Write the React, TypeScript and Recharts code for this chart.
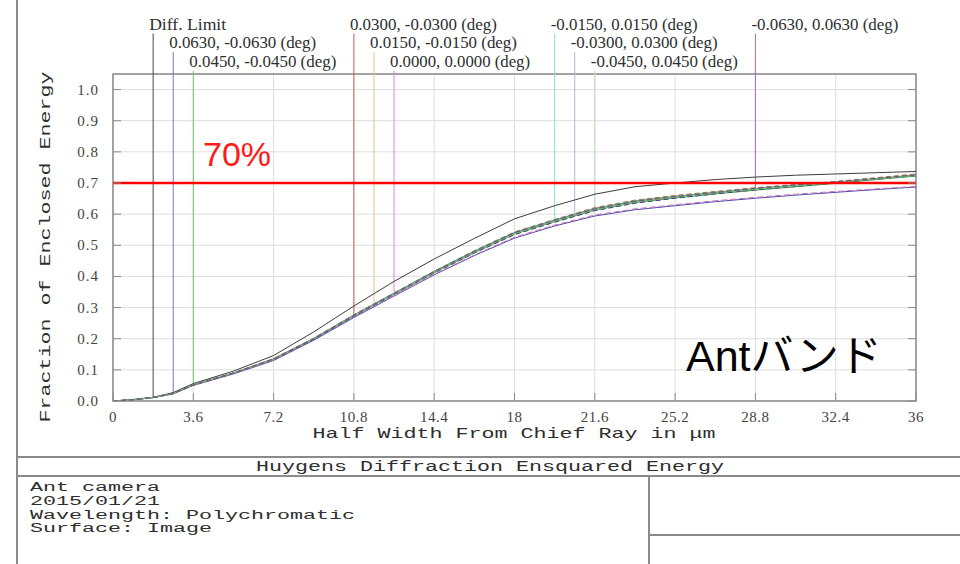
import React from 'react';
import {
  LineChart,
  Line,
  XAxis,
  YAxis,
  CartesianGrid,
  ReferenceLine,
  ReferenceArea,
} from 'recharts';

// Half width from chief ray (µm) at which the enclosed energy is sampled
const RADIUS_UM = [0, 0.9, 1.8, 2.7, 3.6, 5.4, 7.2, 9, 10.8, 12.6, 14.4, 16.2, 18, 19.8, 21.6, 23.4, 25.2, 27, 28.8, 30.6, 32.4, 34.2, 36];

// Fraction of enclosed energy per field
const DIFF_LIMIT = [0, 0.005, 0.012, 0.027, 0.056, 0.096, 0.146, 0.222, 0.305, 0.384, 0.456, 0.522, 0.585, 0.627, 0.664, 0.688, 0.7, 0.711, 0.719, 0.725, 0.729, 0.733, 0.737];
const F_P0630 = [0, 0.004, 0.011, 0.023, 0.05, 0.087, 0.13, 0.195, 0.268, 0.337, 0.405, 0.467, 0.523, 0.562, 0.594, 0.614, 0.627, 0.64, 0.651, 0.661, 0.67, 0.679, 0.687];
const F_P0450 = [0, 0.004, 0.011, 0.024, 0.052, 0.089, 0.134, 0.199, 0.273, 0.343, 0.412, 0.476, 0.536, 0.576, 0.613, 0.637, 0.652, 0.665, 0.677, 0.688, 0.699, 0.711, 0.722];
const F_P0300 = [0, 0.004, 0.011, 0.024, 0.052, 0.09, 0.136, 0.201, 0.276, 0.346, 0.416, 0.481, 0.541, 0.581, 0.618, 0.642, 0.657, 0.67, 0.682, 0.692, 0.702, 0.714, 0.726];
const F_P0150 = [0, 0.004, 0.011, 0.024, 0.052, 0.09, 0.136, 0.202, 0.277, 0.347, 0.417, 0.483, 0.543, 0.583, 0.621, 0.645, 0.66, 0.673, 0.685, 0.695, 0.705, 0.717, 0.729];
const F_0000 = [0, 0.004, 0.011, 0.023, 0.051, 0.088, 0.131, 0.197, 0.27, 0.339, 0.407, 0.469, 0.526, 0.565, 0.597, 0.617, 0.63, 0.643, 0.654, 0.664, 0.673, 0.681, 0.689];
const F_M0150 = [0, 0.004, 0.011, 0.024, 0.052, 0.09, 0.135, 0.201, 0.276, 0.346, 0.416, 0.481, 0.541, 0.581, 0.618, 0.642, 0.657, 0.67, 0.682, 0.693, 0.703, 0.714, 0.725];
const F_M0300 = [0, 0.004, 0.011, 0.024, 0.051, 0.089, 0.133, 0.198, 0.272, 0.342, 0.411, 0.475, 0.534, 0.574, 0.611, 0.635, 0.651, 0.665, 0.678, 0.689, 0.7, 0.712, 0.724];
const F_M0450 = [0, 0.004, 0.011, 0.024, 0.052, 0.09, 0.134, 0.2, 0.274, 0.344, 0.413, 0.478, 0.538, 0.578, 0.615, 0.639, 0.654, 0.668, 0.68, 0.691, 0.701, 0.713, 0.724];
const F_M0630 = [0, 0.004, 0.011, 0.024, 0.052, 0.09, 0.135, 0.2, 0.275, 0.345, 0.415, 0.48, 0.54, 0.58, 0.617, 0.641, 0.656, 0.669, 0.683, 0.694, 0.704, 0.715, 0.726];

// Legend labels and the radius at which each label's pointer line drops to its curve
const FIELD_LABELS = [
  'Diff. Limit',
  '0.0630, -0.0630 (deg)',
  '0.0450, -0.0450 (deg)',
  '0.0300, -0.0300 (deg)',
  '0.0150, -0.0150 (deg)',
  '0.0000, 0.0000 (deg)',
  '-0.0150, 0.0150 (deg)',
  '-0.0300, 0.0300 (deg)',
  '-0.0450, 0.0450 (deg)',
  '-0.0630, 0.0630 (deg)',
];
const MARKER_UM = [1.8, 2.7, 3.6, 10.8, 11.7, 12.6, 19.8, 20.7, 21.6, 28.8];

// Axis ticks
const X_TICKS = [0, 3.6, 7.2, 10.8, 14.4, 18, 21.6, 25.2, 28.8, 32.4, 36];
const X_TICK_LABELS = ['0', '3.6', '7.2', '10.8', '14.4', '18', '21.6', '25.2', '28.8', '32.4', '36'];
const Y_TICKS = [0, 0.1, 0.2, 0.3, 0.4, 0.5, 0.6, 0.7, 0.8, 0.9, 1.0];
const Y_TICK_LABELS = ['0.0', '0.1', '0.2', '0.3', '0.4', '0.5', '0.6', '0.7', '0.8', '0.9', '1.0'];

const TARGET_FRACTION = 0.7;

const INFO_LINES = ['Ant camera', '2015/01/21', 'Wavelength: Polychromatic', 'Surface: Image'];

// Series styling (same order as FIELD_LABELS)
const SERIES = [
  { key: 'diff', values: DIFF_LIMIT, stroke: '#3c3c3c', marker: '#4a4a4a', dash: undefined },
  { key: 'p0630', values: F_P0630, stroke: '#4a4ab0', marker: '#7676c4', dash: undefined },
  { key: 'p0450', values: F_P0450, stroke: '#3c9a3c', marker: '#74c074', dash: undefined },
  { key: 'p0300', values: F_P0300, stroke: '#b83a3a', marker: '#d05a5a', dash: undefined },
  { key: 'p0150', values: F_P0150, stroke: '#9a7a30', marker: '#e2c486', dash: '5 3' },
  { key: 'z0000', values: F_0000, stroke: '#d070b8', marker: '#de84de', dash: '6 3' },
  { key: 'm0150', values: F_M0150, stroke: '#40b0b0', marker: '#86e0e0', dash: undefined },
  { key: 'm0300', values: F_M0300, stroke: '#3a3a80', marker: '#b4b4e0', dash: '5 3' },
  { key: 'm0450', values: F_M0450, stroke: '#70c070', marker: '#b4e2b4', dash: undefined },
  { key: 'm0630', values: F_M0630, stroke: '#7a4a7a', marker: '#a070a8', dash: '5 3' },
];

const TABLE = RADIUS_UM.map((r, i) => {
  const row: Record<string, number> = { r };
  SERIES.forEach((s) => {
    row[s.key] = s.values[i];
  });
  return row;
});

// Value of a sampled curve at an arbitrary radius (for the pointer line ends)
function valueAt(values: number[], x: number) {
  for (let i = 1; i < RADIUS_UM.length; i++) {
    if (x <= RADIUS_UM[i]) {
      const t = (x - RADIUS_UM[i - 1]) / (RADIUS_UM[i] - RADIUS_UM[i - 1]);
      return values[i - 1] + t * (values[i] - values[i - 1]);
    }
  }
  return values[values.length - 1];
}

// Layout
const W = 960;
const H = 564;
const PLOT_LEFT = 113;
const PLOT_RIGHT = 916;
const PLOT_TOP = 74;
const PLOT_BOTTOM = 401;
const Y_AXIS_W = 100;
const X_AXIS_H = 30;
const Y_MAX = 1.05;
const LEGEND_ROW_TOP = [1.18, 1.12, 1.06];
const TICK_LEN = 8;

const SERIF = '"Liberation Serif", "DejaVu Serif", serif';
const MONO = '"Liberation Mono", "DejaVu Sans Mono", monospace';
const PITCH = 13;
const LEGEND_PITCH = 7;
const AXIS_GREY = '#8a8a8a';
const TEXT = '#2e2e2e';

function XTick(props: any) {
  const { x, payload } = props;
  const label = X_TICK_LABELS[X_TICKS.indexOf(payload.value)];
  return (
    <g>
      <line x1={x} x2={x} y1={PLOT_BOTTOM} y2={PLOT_BOTTOM - TICK_LEN} stroke={AXIS_GREY} strokeWidth={1} />
      <text x={x} y={422} textAnchor="middle" fontFamily={SERIF} fontSize={15} letterSpacing={0.5} fill="#444">
        {label}
      </text>
    </g>
  );
}

function YTick(props: any) {
  const { y, payload } = props;
  const label = Y_TICK_LABELS[Y_TICKS.indexOf(payload.value)];
  return (
    <g>
      <line x1={PLOT_LEFT} x2={PLOT_LEFT + TICK_LEN} y1={y} y2={y} stroke={AXIS_GREY} strokeWidth={1} />
      <line x1={PLOT_RIGHT - TICK_LEN} x2={PLOT_RIGHT} y1={y} y2={y} stroke={AXIS_GREY} strokeWidth={1} />
      <text x={99} y={y + 5} textAnchor="end" fontFamily={SERIF} fontSize={15} letterSpacing={1} fill="#444">
        {label}
      </text>
    </g>
  );
}

function MarkerLabel(props: any) {
  const { viewBox, text } = props;
  if (!viewBox) return null;
  return (
    <text
      x={viewBox.x - 4}
      y={viewBox.y - 4}
      fontFamily={SERIF}
      fontSize={16}
      textLength={text.length * LEGEND_PITCH}
      lengthAdjust="spacingAndGlyphs"
      fill={TEXT}
    >
      {text}
    </text>
  );
}

function Frame() {
  const line = { stroke: AXIS_GREY, strokeWidth: 2 };
  return (
    <svg width={W} height={H} style={{ position: 'absolute', left: 0, top: 0, pointerEvents: 'none' }}>
      <line x1={17} y1={0} x2={17} y2={H} {...line} />
      <line x1={17} y1={457} x2={W} y2={457} {...line} />
      <line x1={17} y1={476} x2={W} y2={476} {...line} />
      <line x1={649} y1={476} x2={649} y2={H} {...line} />
      <line x1={649} y1={535} x2={W} y2={535} {...line} />

      <text
        x={490}
        y={471}
        textAnchor="middle"
        fontFamily={MONO}
        fontSize={14}
        textLength={36 * PITCH}
        lengthAdjust="spacingAndGlyphs"
        fill={TEXT}
      >
        Huygens Diffraction Ensquared Energy
      </text>

      {INFO_LINES.map((t, i) => (
        <text
          key={t}
          x={30}
          y={491 + i * 13.8}
          fontFamily={MONO}
          fontSize={12}
          textLength={t.length * PITCH}
          lengthAdjust="spacingAndGlyphs"
          fill={TEXT}
        >
          {t}
        </text>
      ))}

      <text
        x={514}
        y={438}
        textAnchor="middle"
        fontFamily={MONO}
        fontSize={15}
        textLength={31 * PITCH}
        lengthAdjust="spacingAndGlyphs"
        fill={TEXT}
      >
        Half Width From Chief Ray in μm
      </text>

      <text
        transform="translate(50 247) rotate(-90)"
        textAnchor="middle"
        fontFamily={MONO}
        fontSize={15}
        textLength={27 * PITCH}
        lengthAdjust="spacingAndGlyphs"
        fill={TEXT}
      >
        Fraction of Enclosed Energy
      </text>

      <text x={203} y={166} fontFamily='"Liberation Sans", Arial, sans-serif' fontSize={34} fill="#ff1a1a">
        70%
      </text>
      <text x={686} y={371} fontFamily='"Liberation Sans", "Noto Sans CJK JP", sans-serif' fontSize={43} fill="#000">
        Antバンド
      </text>
    </svg>
  );
}

export default function App() {
  return (
    <div style={{ position: 'absolute', left: 0, top: 0, width: W, height: H, background: '#fff' }}>
      <div style={{ position: 'absolute', left: 0, top: 0 }}>
        <LineChart
          width={W}
          height={H}
          data={TABLE}
          margin={{ top: PLOT_TOP, right: W - PLOT_RIGHT, bottom: H - PLOT_BOTTOM - X_AXIS_H, left: PLOT_LEFT - Y_AXIS_W }}
        >
          <CartesianGrid stroke="#dedede" strokeWidth={1} />
          <XAxis
            dataKey="r"
            type="number"
            domain={[0, 36]}
            ticks={X_TICKS}
            interval={0}
            height={X_AXIS_H}
            axisLine={false}
            tickLine={false}
            tick={<XTick />}
            allowDataOverflow
          />
          <YAxis
            type="number"
            domain={[0, Y_MAX]}
            ticks={Y_TICKS}
            interval={0}
            width={Y_AXIS_W}
            axisLine={false}
            tickLine={false}
            tick={<YTick />}
            allowDataOverflow
          />
          <ReferenceArea x1={0} x2={36} y1={0} y2={Y_MAX} fill="none" stroke={AXIS_GREY} strokeWidth={1.5} ifOverflow="visible" />

          {SERIES.map((s, i) => (
            <ReferenceLine
              key={'m' + s.key}
              segment={[
                { x: MARKER_UM[i], y: LEGEND_ROW_TOP[i % 3] },
                { x: MARKER_UM[i], y: valueAt(s.values, MARKER_UM[i]) },
              ]}
              stroke={s.marker}
              strokeWidth={1}
              ifOverflow="visible"
              label={<MarkerLabel text={FIELD_LABELS[i]} />}
            />
          ))}

          {SERIES.map((s) => (
            <Line
              key={s.key}
              dataKey={s.key}
              type="linear"
              stroke={s.stroke}
              strokeWidth={1}
              strokeDasharray={s.dash}
              dot={false}
              activeDot={false}
              isAnimationActive={false}
            />
          ))}

          <ReferenceLine y={TARGET_FRACTION} stroke="#ff0000" strokeWidth={2.5} />
        </LineChart>
      </div>
      <Frame />
    </div>
  );
}
